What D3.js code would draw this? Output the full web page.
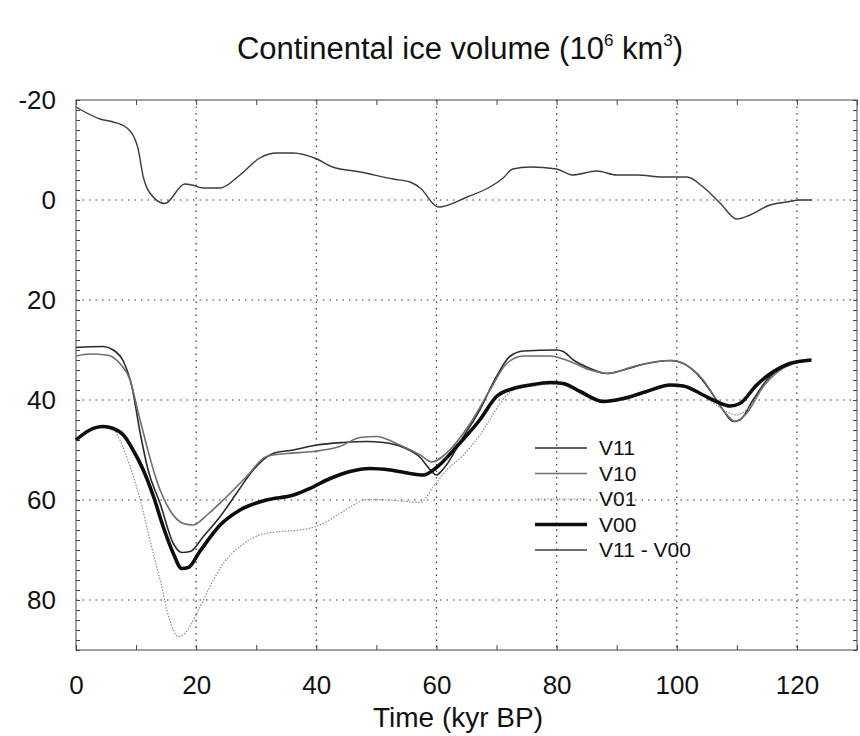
<!DOCTYPE html>
<html>
<head>
<meta charset="utf-8">
<script src="https://cdn.jsdelivr.net/npm/d3@7"></script>
<style>
  body { margin: 0; background: #fff; }
  text { font-family: 'Liberation Sans', Arial, Helvetica, sans-serif; fill: #111; }
  .grid { stroke: #333; stroke-width: 1.2; stroke-dasharray: 1.5,5; }
  .axis path { display: none; }
  .axis line { stroke: #444; }
  .series { fill: none; stroke-linejoin: round; }
</style>
</head>
<body>
<div id="chart"></div>
<script>
// Series: time (kyr BP) and ice volume (10^6 km^3)
const v11Time = [0,4.5,6.2,7.9,9.3,10.7,12,14,16.2,17.6,19,21.2,24,26.7,29.5,32.8,36.2,40.1,44.5,48.4,51.2,54.5,57.3,59,60,61,64.5,67.2,70,72.2,74.5,80,81.1,82.8,85.6,88.3,91.1,95,98.9,101.1,103.3,105.5,107.7,109.4,110.5,112.7,115,117.7,120,122.4];
const v11Vals = [29.5,29.3,30,32.3,37.3,46.7,54,60.7,68.7,70.5,70.3,67.3,63.3,58.7,54,50.7,50,49,48.5,48.3,48.5,49.5,51.5,54,55,54,47.3,42,35.3,31.3,30.2,30,30.3,32,33.7,34.7,34,32.7,32.1,32.7,34.7,38,42,44.3,44,40,36,33.3,32.5,31.9];

const v10Time = [0,2.3,5.1,7.3,9,10.4,11.8,13.4,15.6,17.9,19.5,21.8,25.1,28.4,31.7,35.1,39.5,43.9,47.3,50,53.9,57.3,59.2,62.2,65.6,68.9,71.7,74.5,78.9,82.2,85.6,88.9,92.2,96.7,99.4,102.2,104.4,106.6,108.6,109.7,111.6,114.4,117.2,120,122.4];
const v10Vals = [31.2,30.8,31,32.7,36,42.7,49.3,56,62,64.7,65,63,59.3,55.3,51.3,50.7,50.3,49.3,47.5,47.3,49,51,52.4,50,44.7,38,32.7,31.2,31.2,32.3,34,34.7,33.5,32.3,32.1,33.5,36,40,43.3,44.3,42.7,37.3,34,32.5,31.9];

const v01Time = [0,2.3,4.5,6.2,7.3,9,10.7,12.3,14,15.6,17,18.1,20.1,22.3,24.5,27.3,30.6,34,37.3,40.6,43.9,46.2,48.4,51.7,55,57.3,59.5,61.7,64.5,67.8,70.6,72.8,75.6,80,84,88,91,95,99,101,104.4,106.6,108.5,110,112,115,118.5,122.4];
const v01Vals = [48,46,45.3,45.8,48,53.3,60,68,76,84,87.3,86.7,82.7,77.3,72.7,69.3,67,66.3,66,65,62.7,61,59.9,60,60.3,60.5,57.3,54,51,46,40.7,38,37.3,36.8,38.5,40.5,39.8,38.3,37.2,37.4,39.3,41,42.5,43,41.5,36.5,33.2,32];

const v00Time = [0,2.3,4.5,6.2,7.9,9.5,11.2,12.9,14.5,16.2,17.6,18.7,20.6,24,27.3,31.7,36.2,38.9,42.3,45.6,48.9,52.3,55.6,57.8,60,63.6,67.2,70,72.8,75.6,78.9,81.1,83.9,87.8,91.1,95,98.9,101.1,104.4,106.6,108.9,110.5,113.3,116.1,118.8,122.4];
const v00Vals = [48,46,45.3,45.7,47,50,54,59.3,65.3,70.7,73.7,73.5,70.3,65,62,60,59,57.7,55.7,54.3,53.7,54,54.7,55,53.5,49,44,39.3,37.7,37,36.5,36.7,38.3,40.3,39.7,38.3,37,37.2,39,40.3,41.2,40.7,37,34.3,32.7,32];

const diffTime = [0,4,6.2,8.5,10.3,11.2,12.3,14.8,18.1,19.3,21.2,24,27.3,30.6,33.4,36.1,40.1,42.7,47.3,52.8,55.6,57.3,60.3,65.1,68.9,71.1,72.7,75.6,80,82.6,86.7,90,93.4,97.7,101.7,104.4,107.2,110,112.2,115.5,118.3,120.5,122.5];
const diffVals = [-18.6,-16.2,-15.6,-14.4,-10.4,-4.6,-1.4,0.7,-3.2,-3,-2.4,-2.4,-5,-8.4,-9.4,-9.4,-8.2,-6.6,-5.6,-4.2,-3.6,-2.4,1.4,-0.6,-2.6,-4.4,-6.2,-6.6,-6.2,-5,-5.8,-5,-5,-4.6,-4.6,-2.6,0.6,3.8,3,1,0.4,0,0];

const seriesNames = ['V11', 'V10', 'V01', 'V00', 'V11 - V00'];
const xTicks = [0, 20, 40, 60, 80, 100, 120];
const yTicks = [-20, 0, 20, 40, 60, 80];

function createChart() {
    let divId = '#chart';

    // Canvas and plot box
    let margin = {top: 100, right: 3, bottom: 86, left: 76},
        width = 860 - margin.left - margin.right,
        height = 736 - margin.top - margin.bottom;

    // Scales (y runs downward: -20 at top)
    let scX = d3.scaleLinear().domain([0, 130]).range([0, width]);
    let scY = d3.scaleLinear().domain([-20, 90]).range([0, height]);

    let svg = d3.select(`div${divId}`)
        .append('svg')
            .attr('width', 860)
            .attr('height', 736)
        .append('g')
            .attr('transform', `translate(${margin.left},${margin.top})`);

    // Series styling
    let styles = {
        'V11':       {stroke: '#2b2b2b', width: 1.6, dash: null},
        'V10':       {stroke: '#6e6e6e', width: 1.6, dash: null},
        'V01':       {stroke: '#8c8c8c', width: 1.2, dash: '1.5,1.5'},
        'V00':       {stroke: '#0d0d0d', width: 3.6, dash: null},
        'V11 - V00': {stroke: '#3c3c3c', width: 1.4, dash: null}
    };
    let series = [
        {name: 'V11', t: v11Time, v: v11Vals},
        {name: 'V10', t: v10Time, v: v10Vals},
        {name: 'V01', t: v01Time, v: v01Vals},
        {name: 'V00', t: v00Time, v: v00Vals},
        {name: 'V11 - V00', t: diffTime, v: diffVals}
    ];

    // Title with superscripts
    let title = svg.append('text')
        .attr('x', 460 - margin.left)
        .attr('y', 59 - margin.top)
        .attr('text-anchor', 'middle')
        .style('font-size', '31px');
    title.append('tspan').text('Continental ice volume (10');
    title.append('tspan').attr('dy', -13).style('font-size', '17px').text('6');
    title.append('tspan').attr('dy', 13).text(' km');
    title.append('tspan').attr('dy', -13).style('font-size', '17px').text('3');
    title.append('tspan').attr('dy', 13).text(')');

    // Dotted gridlines
    svg.selectAll('line.grid-x')
        .data(xTicks.filter(d => d > 0))
        .enter()
        .append('line')
            .attr('class', 'grid')
            .attr('x1', d => scX(d))
            .attr('x2', d => scX(d))
            .attr('y1', 0)
            .attr('y2', height);
    svg.selectAll('line.grid-y')
        .data(yTicks.filter(d => d > -20))
        .enter()
        .append('line')
            .attr('class', 'grid')
            .attr('x1', 0)
            .attr('x2', width)
            .attr('y1', d => scY(d))
            .attr('y2', d => scY(d));

    // Small inward ticks on all four sides
    svg.append('g')
        .attr('class', 'axis')
        .call(d3.axisLeft(scY).tickValues(d3.range(-20, 91, 2)).tickSize(-4).tickFormat(''));
    svg.append('g')
        .attr('class', 'axis')
        .attr('transform', `translate(${width},0)`)
        .call(d3.axisRight(scY).tickValues(d3.range(-20, 91, 2)).tickSize(-4).tickFormat(''));
    svg.append('g')
        .attr('class', 'axis')
        .attr('transform', `translate(0,${height})`)
        .call(d3.axisBottom(scX).tickValues(d3.range(0, 131, 10)).tickSize(-5).tickFormat(''));
    svg.append('g')
        .attr('class', 'axis')
        .call(d3.axisTop(scX).tickValues(d3.range(0, 131, 10)).tickSize(-5).tickFormat(''));

    // Plot frame
    svg.append('rect')
        .attr('width', width)
        .attr('height', height)
        .attr('fill', 'none')
        .attr('stroke', '#444')
        .attr('stroke-width', 1);

    // Tick labels (plain hyphen for negatives, as in the original)
    let xAxis = svg.append('g')
        .attr('transform', `translate(0,${height})`)
        .call(d3.axisBottom(scX).tickValues(xTicks).tickSize(0).tickPadding(26));
    let yAxis = svg.append('g')
        .call(d3.axisLeft(scY).tickValues(yTicks).tickSize(0).tickPadding(20)
            .tickFormat(d => String(d)));
    [xAxis, yAxis].forEach(a => {
        a.select('.domain').remove();
        a.selectAll('text')
            .style('font-size', '26px')
            .style('font-family', "'Liberation Sans', Arial, sans-serif")
            .attr('fill', '#111');
    });

    // Axis title
    svg.append('text')
        .attr('x', 458 - margin.left)
        .attr('y', 727 - margin.top)
        .attr('text-anchor', 'middle')
        .style('font-size', '28px')
        .text('Time (kyr BP)');

    // Curves
    let plotLine = d3.line()
        .curve(d3.curveMonotoneX)
        .x(d => scX(d[0]))
        .y(d => scY(d[1]));

    series.forEach(s => {
        let st = styles[s.name];
        svg.append('path')
            .attr('class', 'series')
            .attr('stroke', st.stroke)
            .attr('stroke-width', st.width)
            .attr('stroke-dasharray', st.dash)
            .attr('d', plotLine(s.t.map((t, i) => [t, s.v[i]])));
    });

    // Legend
    let legend = svg.append('g')
        .attr('transform', `translate(${535 - margin.left},${448 - margin.top})`);
    seriesNames.forEach((name, i) => {
        let st = styles[name];
        let row = legend.append('g').attr('transform', `translate(0,${i * 25.5})`);
        row.append('line')
            .attr('x1', 0)
            .attr('x2', 52)
            .attr('stroke', st.stroke)
            .attr('stroke-width', st.width)
            .attr('stroke-dasharray', st.dash);
        row.append('text')
            .attr('x', 64)
            .attr('dy', '0.35em')
            .style('font-size', '21px')
            .text(name);
    });
}

createChart();
</script>
</body>
</html>
